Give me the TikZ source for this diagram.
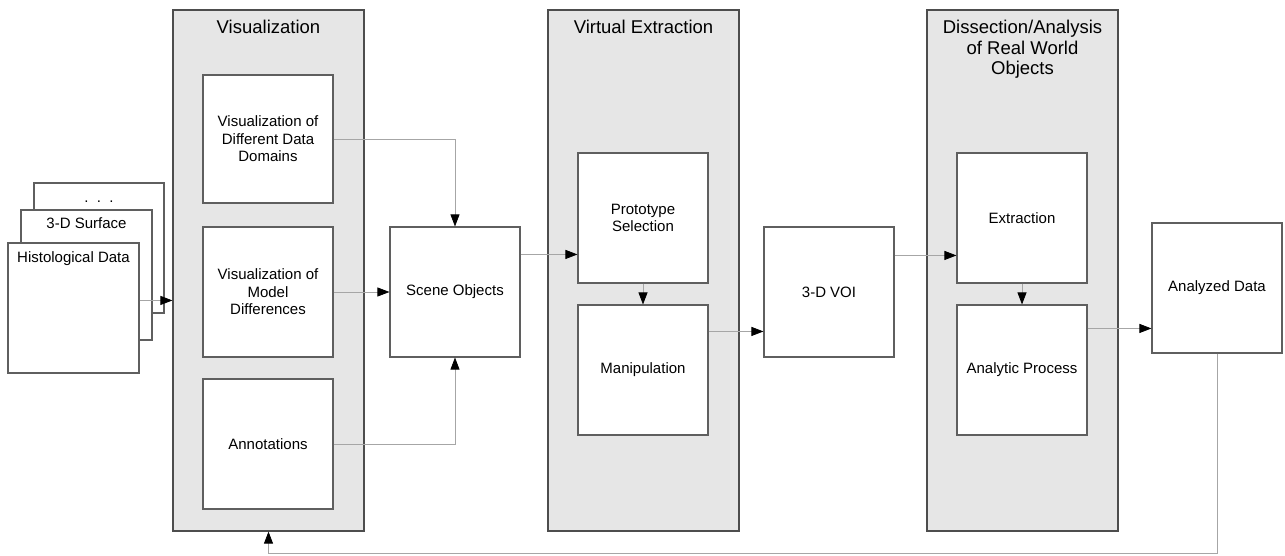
\documentclass[tikz,border=0pt]{standalone}
\usepackage{fontspec}
\setmainfont{Liberation Sans}
\usetikzlibrary{arrows.meta,calc}
\definecolor{contfill}{HTML}{E6E6E6}
\definecolor{contline}{HTML}{4D4D4D}
\definecolor{boxline}{HTML}{5F5F5F}
\definecolor{conline}{HTML}{A6A6A6}
\begin{document}
\begin{tikzpicture}[x=1pt,y=-1pt,
  container/.style={draw=contline, fill=contfill, line width=1.2pt, minimum width=191pt, minimum height=521pt, inner sep=0pt},
  box/.style={draw=boxline, fill=white, line width=1.1pt, minimum width=130pt, minimum height=130pt, align=center, inner sep=2pt, font=\fontsize{15}{17.5}\selectfont},
  hdr/.style={anchor=north, inner sep=0pt, align=center, font=\fontsize{18.5}{20.5}\selectfont},
  txt/.style={anchor=base, inner sep=0pt, font=\fontsize{15}{17.5}\selectfont},
  conn/.style={draw=conline, line width=0.8pt, -{Triangle[length=12pt,width=9pt,color=black]}}
]
\useasboundingbox (0,0) rectangle (1285,556);
% containers
\node[container] (visC) at (268.5,270.5) {};
\node[container] (virC) at (643.5,270.5) {};
\node[container] (disC) at (1022.5,270.5) {};
\node[hdr] (visH) at ($(visC.north)+(0,10.5)$) {Visualization};
\node[hdr] (virH) at ($(virC.north)+(0,10.5)$) {Virtual Extraction};
\node[hdr] (disH) at ($(disC.north)+(0,10.5)$) {Dissection/Analysis\\of Real World\\Objects};
% stacked input
\node[box] (dots) at (99,248) {};
\node[txt] (dotsT) at ($(dots.north)+(0,20)$) {.\ \ .\ \ .};
\node[box, minimum width=131pt] (surf) at (86.5,275) {};
\node[txt] (surfT) at ($(surf.north)+(0,19.5)$) {3-D Surface};
\node[box, minimum width=131pt] (hist) at (73.5,308) {};
\node[txt] (histT) at ($(hist.north)+(0,20)$) {Histological Data};
% visualization boxes
\node[box, minimum height=128pt] (vd) at (268,139) {Visualization of\\Different Data\\Domains};
\node[box] (vm) at (268,292) {Visualization of\\Model\\Differences};
\node[box] (ann) at (268,444) {Annotations};
\node[box] (scene) at (455,292) {Scene Objects};
% virtual extraction
\node[box] (proto) at (643,218) {Prototype\\Selection};
\node[box] (manip) at (643,370) {Manipulation};
\node[box] (voi) at (829,292) {3-D VOI};
% dissection
\node[box] (extr) at (1022,218) {Extraction};
\node[box] (anal) at (1022,370) {Analytic Process};
\node[box] (out) at (1217,288) {Analyzed Data};
\coordinate (fb) at (1217,553);
% connectors
\draw[conn] ($(hist.north east)+(0,58)$) -- ($(visC.west |- hist.north east)+(0,58)$);
\draw[conn] (vd.east) -| (scene.north);
\draw[conn] (vm.east) -- (scene.west);
\draw[conn] (ann.east) -| (scene.south);
\draw[conn] ($(scene.north east)+(0,28)$) -- ($(proto.west |- scene.north east)+(0,28)$);
\draw[conn] (proto.south) -- (manip.north);
\draw[conn] ($(manip.north east)+(0,27)$) -- ($(voi.west |- manip.north east)+(0,27)$);
\draw[conn] ($(voi.north east)+(0,29)$) -- ($(extr.west |- voi.north east)+(0,29)$);
\draw[conn] (extr.south) -- (anal.north);
\draw[conn] ($(anal.north east)+(0,24)$) -- ($(out.west |- anal.north east)+(0,24)$);
\draw[conn] (out.south) -- (fb) -| (visC.south);
\end{tikzpicture}
\end{document}
